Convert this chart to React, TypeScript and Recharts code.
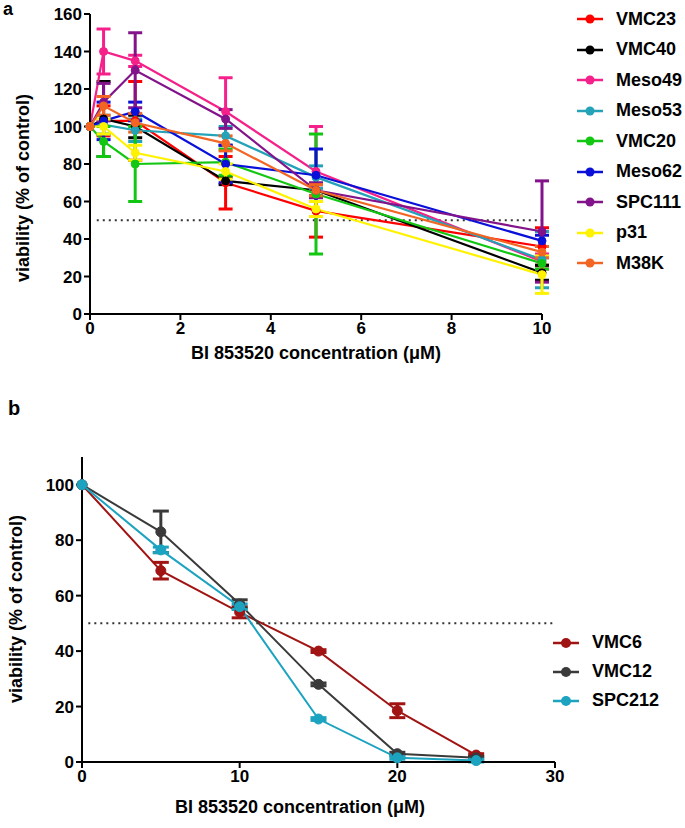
import { LineChart, Line, XAxis, YAxis, ErrorBar, ReferenceLine } from 'recharts';

const xA = [0, 0.3, 1, 3, 5, 10];
const seriesA = ['VMC23', 'VMC40', 'Meso49', 'Meso53', 'VMC20', 'Meso62', 'SPC111', 'p31', 'M38K'];
const colorsA = ['#ff0000', '#000000', '#f5208a', '#24a2b8', '#12c712', '#0a10d8', '#82138a', '#fff200', '#f26522'];
const valuesA = [
  [100, 103, 103, 70, 55, 36],
  [100, 104, 100, 71, 66, 22],
  [100, 140, 135, 108, 76, 28],
  [100, 101, 98, 95, 73, 29],
  [100, 92, 80, 81, 64, 27],
  [100, 103, 108, 80, 74, 39],
  [100, 113, 130, 104, 66, 44],
  [100, 100, 86, 76, 56, 21],
  [100, 111, 102, 91, 66, 33],
];
const errorsA = [
  [0, 8, 21, 14, 14, 10],
  [0, 20, 6, 2, 3, 4],
  [0, 12, 3, 18, 24, 4],
  [0, 5, 6, 5, 6, 15],
  [0, 8, 20, 7, 32, 3],
  [0, 10, 5, 10, 14, 3],
  [0, 10, 20, 5, 4, 27],
  [0, 4, 4, 4, 4, 10],
  [0, 5, 5, 4, 3, 3],
];
const xTicksA = [0, 2, 4, 6, 8, 10];
const yTicksA = [0, 20, 40, 60, 80, 100, 120, 140, 160];

const xB = [0, 5, 10, 15, 20, 25];
const seriesB = ['VMC6', 'VMC12', 'SPC212'];
const colorsB = ['#a11414', '#3a3a3a', '#1ba3c0'];
const valuesB = [
  [100, 69, 54, 40, 18.5, 2.5],
  [100, 83, 57, 28, 3, 1.5],
  [100, 76.5, 56, 15.5, 1.5, 0.5],
];
const errorsB = [
  [0, 3, 2, 0.5, 2.5, 0.5],
  [0, 7.5, 1.5, 0.5, 0.5, 0.5],
  [0, 1, 1, 0.5, 0.5, 0.5],
];
const xTicksB = [0, 10, 20, 30];
const yTicksB = [0, 20, 40, 60, 80, 100];

const xLabel = 'BI 853520 concentration (μM)';
const yLabel = 'viability (% of control)';

const font = '"Liberation Sans", Arial, sans-serif';

function buildRows(xs: number[], names: string[], vals: number[][], errs: number[][]) {
  return xs.map((x, i) => {
    const row: Record<string, number> = { x };
    names.forEach((n, j) => {
      row[n] = vals[j][i];
      row[n + '_err'] = errs[j][i];
    });
    return row;
  });
}

const dataA = buildRows(xA, seriesA, valuesA, errorsA);
const dataB = buildRows(xB, seriesB, valuesB, errorsB);

const tickStyle = { fill: '#000', fontSize: 17, fontWeight: 700, fontFamily: font };

// legend drawn as plain html so it does not squeeze the plot area
function KeyList({ names, colors, left, top, rowHeight, dotR }: {
  names: string[]; colors: string[]; left: number; top: number; rowHeight: number; dotR: number;
}) {
  return (
    <div style={{ position: 'absolute', left, top, fontFamily: font }}>
      {names.map((n, i) => (
        <div key={n} style={{ height: rowHeight, display: 'flex', alignItems: 'center' }}>
          <svg width={30} height={14} style={{ marginRight: 10 }}>
            <line x1={1} y1={7} x2={27} y2={7} stroke={colors[i]} strokeWidth={2.5} />
            <circle cx={14} cy={7} r={dotR} fill={colors[i]} />
          </svg>
          <span style={{ fontSize: 18, fontWeight: 700, color: '#000' }}>{n}</span>
        </div>
      ))}
    </div>
  );
}

function YTitle({ x, y }: { x: number; y: number }) {
  return (
    <text x={x} y={y} transform={`rotate(-90 ${x} ${y})`} textAnchor="middle" dominantBaseline="middle"
      fontSize={18} fontWeight={700} fontFamily={font} fill="#000">
      {yLabel}
    </text>
  );
}

function XTitle({ x, y }: { x: number; y: number }) {
  return (
    <text x={x} y={y} textAnchor="middle" dominantBaseline="middle"
      fontSize={18} fontWeight={700} fontFamily={font} fill="#000">
      {xLabel}
    </text>
  );
}

export default function App() {
  return (
    <div style={{ position: 'absolute', left: 0, top: 0, width: 685, height: 828, background: '#fff', fontFamily: font }}>
      <div style={{ position: 'absolute', left: 3, top: 0, fontSize: 18, fontWeight: 700, lineHeight: '18px' }}>a</div>
      <div style={{ position: 'absolute', left: 0, top: 0 }}>
        <LineChart width={685} height={370} data={dataA} margin={{ top: 14, right: 143, bottom: 6, left: 30 }}>
          <XAxis
            dataKey="x" type="number" domain={[0, 10]} ticks={xTicksA}
            stroke="#000" strokeWidth={2} tickSize={6} tick={tickStyle} height={50}
            label={{ content: () => <XTitle x={316} y={354} /> }}
          />
          <YAxis
            type="number" domain={[0, 160]} ticks={yTicksA}
            stroke="#000" strokeWidth={2} tickSize={6} tick={tickStyle} width={60}
            label={{ content: () => <YTitle x={24} y={188} /> }}
          />
          <ReferenceLine segment={[{ x: 0.15, y: 50 }, { x: 10, y: 50 }]} stroke="#333" strokeWidth={2} strokeDasharray="2 4" />
          {seriesA.map((s, i) => (
            <Line
              key={s} dataKey={s} name={s} stroke={colorsA[i]} strokeWidth={2.2}
              dot={{ r: 4, fill: colorsA[i], stroke: colorsA[i], strokeWidth: 1 }}
              isAnimationActive={false}
            >
              <ErrorBar dataKey={s + '_err'} direction="y" width={7} strokeWidth={3} stroke={colorsA[i]} />
            </Line>
          ))}
        </LineChart>
      </div>
      <KeyList names={seriesA} colors={colorsA} left={576} top={4} rowHeight={30.5} dotR={4.5} />

      <div style={{ position: 'absolute', left: 8, top: 398, fontSize: 20, fontWeight: 700, lineHeight: '20px' }}>b</div>
      <div style={{ position: 'absolute', left: 0, top: 410 }}>
        <LineChart width={685} height={418} data={dataB} margin={{ top: 47, right: 130, bottom: 6, left: 22 }}>
          <XAxis
            dataKey="x" type="number" domain={[0, 30]} ticks={xTicksB}
            stroke="#000" strokeWidth={2} tickSize={6} tick={tickStyle} height={60}
            label={{ content: () => <XTitle x={300} y={398} /> }}
          />
          <YAxis
            type="number" domain={[0, 110]} ticks={yTicksB}
            stroke="#000" strokeWidth={2} tickSize={6} tick={tickStyle} width={60}
            label={{ content: () => <YTitle x={17} y={199} /> }}
          />
          <ReferenceLine segment={[{ x: 0.4, y: 50 }, { x: 30, y: 50 }]} stroke="#333" strokeWidth={2} strokeDasharray="2 4" />
          {seriesB.map((s, i) => (
            <Line
              key={s} dataKey={s} name={s} stroke={colorsB[i]} strokeWidth={2}
              dot={{ r: 5, fill: colorsB[i], stroke: colorsB[i], strokeWidth: 1 }}
              isAnimationActive={false}
            >
              <ErrorBar dataKey={s + '_err'} direction="y" width={8} strokeWidth={3} stroke={colorsB[i]} />
            </Line>
          ))}
        </LineChart>
      </div>
      <KeyList names={seriesB} colors={colorsB} left={552} top={628} rowHeight={29} dotR={5} />
    </div>
  );
}
